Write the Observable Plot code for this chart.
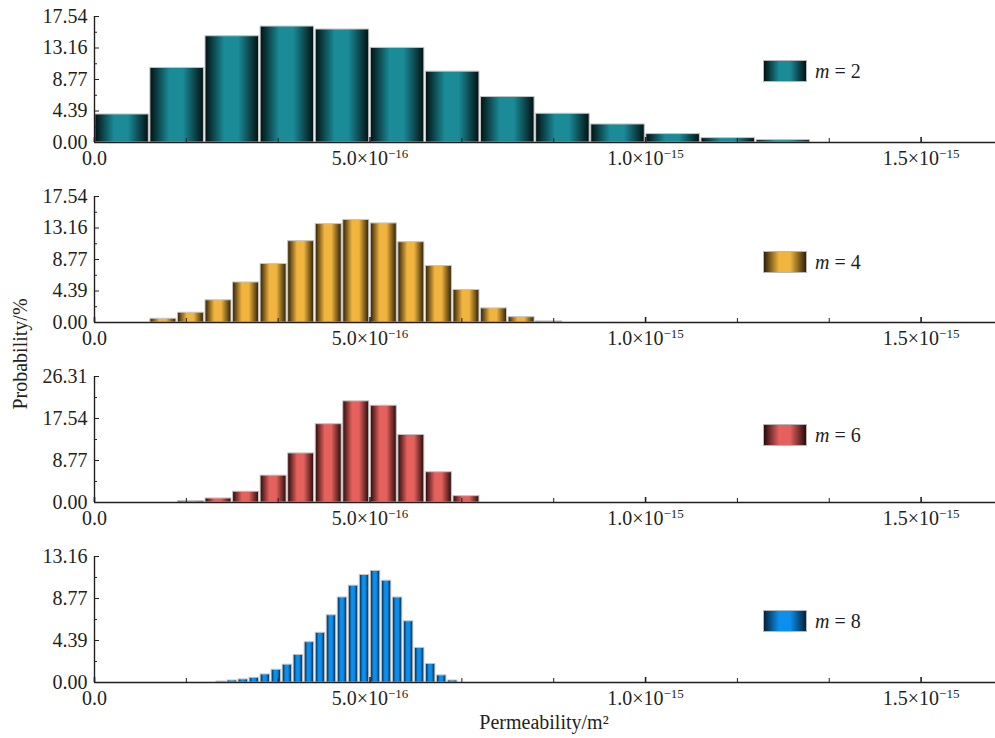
<!DOCTYPE html>
<html>
<head>
<meta charset="utf-8">
<script src="https://cdn.jsdelivr.net/npm/d3@7"></script>
<script src="https://cdn.jsdelivr.net/npm/@observablehq/plot@0.6"></script>
<style>
  html, body { margin: 0; padding: 0; background: #fff; }
  #wrap { position: relative; width: 995px; height: 738px; overflow: hidden;
          font-family: "Liberation Serif", "Times New Roman", serif; color: #231f20; }
  .panel { position: absolute; left: 0; }
  .legend { position: absolute; display: flex; align-items: center; font-size: 20px; white-space: nowrap; }
  .legend .sw { width: 44px; height: 22px; box-sizing: border-box; border: 1px solid #b8b8b8; margin-right: 8px; }
  .legend i { font-style: italic; }
  .ylab { position: absolute; font-size: 20px; transform: translate(-50%, -50%) rotate(-90deg); white-space: nowrap; }
  .xlab { position: absolute; font-size: 20px; transform: translate(-50%, -50%); white-space: nowrap; }
</style>
</head>
<body>
<div id="wrap"></div>
<script>
// ---------- data (bin lower edges in units of 1e-16 m², probabilities in %) ----------
const m2BinLo = [0, 1, 2, 3, 4, 5, 6, 7, 8, 9, 10, 11, 12];
const m2BinWidth = 1;
const m2Prob = [3.90, 10.38, 14.79, 16.14, 15.73, 13.17, 9.86, 6.33, 4.00, 2.51, 1.17, 0.61, 0.33];

const m4BinLo = [1.0, 1.5, 2.0, 2.5, 3.0, 3.5, 4.0, 4.5, 5.0, 5.5, 6.0, 6.5, 7.0, 7.5, 8.0];
const m4BinWidth = 0.5;
const m4Prob = [0.52, 1.36, 3.09, 5.57, 8.14, 11.32, 13.70, 14.27, 13.79, 11.18, 7.86, 4.53, 1.96, 0.74, 0.15];

const m6BinLo = [1.5, 2.0, 2.5, 3.0, 3.5, 4.0, 4.5, 5.0, 5.5, 6.0, 6.5];
const m6BinWidth = 0.5;
const m6Prob = [0.28, 0.84, 2.25, 5.61, 10.25, 16.35, 21.12, 20.21, 14.10, 6.32, 1.33];

const m8BinLo = [2.2, 2.4, 2.6, 2.8, 3.0, 3.2, 3.4, 3.6, 3.8, 4.0, 4.2, 4.4, 4.6, 4.8, 5.0, 5.2, 5.4, 5.6, 5.8, 6.0, 6.2, 6.4];
const m8BinWidth = 0.2;
const m8Prob = [0.10, 0.21, 0.32, 0.49, 0.84, 1.33, 1.86, 2.88, 4.21, 5.19, 7.02, 8.88, 10.11, 11.23, 11.65, 10.63, 8.88, 6.39, 3.61, 1.93, 0.74, 0.21];

const seriesNames = ["m = 2", "m = 4", "m = 6", "m = 8"];

// ---------- axis ticks ----------
const xDomain = [0, 1.635e-15];
const xMajorTicks = [0, 5e-16, 1e-15, 1.5e-15];
const xTickLabels = ["0.0", "5.0×10^−16", "1.0×10^−15", "1.5×10^−15"];
const xMinorTicks = [1.6667e-16, 3.3333e-16, 6.6667e-16, 8.3333e-16, 1.16667e-15, 1.33333e-15];

const yTicksA = [0, 4.385, 8.77, 13.155, 17.54];
const yTickLabelsA = ["0.00", "4.39", "8.77", "13.16", "17.54"];
const yTicksB = [0, 8.77, 17.54, 26.31];
const yTickLabelsB = ["0.00", "8.77", "17.54", "26.31"];
const yTicksC = [0, 4.3867, 8.7733, 13.16];
const yTickLabelsC = ["0.00", "4.39", "8.77", "13.16"];

const xLabel = "Permeability/m²";
const yLabel = "Probability/%";

// ---------- styles ----------
const palette = [
  {dark: "#021112", mid: "#1a8b97"},
  {dark: "#2f2005", mid: "#f1b53f"},
  {dark: "#2a0b0b", mid: "#e4615d"},
  {dark: "#05213a", mid: "#0b90ef"}
];

const panels = [
  {lo: m2BinLo, w: m2BinWidth, p: m2Prob, yTicks: yTicksA, yLabels: yTickLabelsA, legendY: 71},
  {lo: m4BinLo, w: m4BinWidth, p: m4Prob, yTicks: yTicksA, yLabels: yTickLabelsA, legendY: 82},
  {lo: m6BinLo, w: m6BinWidth, p: m6Prob, yTicks: yTicksB, yLabels: yTickLabelsB, legendY: 75},
  {lo: m8BinLo, w: m8BinWidth, p: m8Prob, yTicks: yTicksC, yLabels: yTickLabelsC, legendY: 81}
];

const wrap = document.getElementById("wrap");
const PH = 180;
const xLabelMap = new Map(xMajorTicks.map((t, i) => [t, xTickLabels[i]]));

panels.forEach((cfg, k) => {
  const data = cfg.lo.map((lo, i) => ({x1: lo * 1e-16, x2: (lo + cfg.w) * 1e-16, y: cfg.p[i]}));
  const yLabelMap = new Map(cfg.yTicks.map((t, i) => [t, cfg.yLabels[i]]));
  const yMinor = d3.pairs(cfg.yTicks).map(([a, b]) => (a + b) / 2);
  const svg = Plot.plot({
    width: 995, height: PH,
    marginLeft: 94, marginRight: 0, marginTop: 16, marginBottom: 38,
    style: {fontFamily: '"Liberation Serif", "Times New Roman", serif', fontSize: "20px",
            color: "#231f20", background: "transparent", overflow: "visible"},
    x: {domain: xDomain},
    y: {domain: [0, cfg.yTicks[cfg.yTicks.length - 1]]},
    marks: [
      Plot.rectY(data, {x1: "x1", x2: "x2", y: "y", fill: `url(#grad${k})`,
                        stroke: "#c4c4c4", strokeWidth: 1, insetLeft: 0.8, insetRight: 0.8}),
      Plot.ruleY([0], {stroke: "#231f20", strokeWidth: 1.6}),
      Plot.ruleX([0], {stroke: "#231f20", strokeWidth: 1.4}),
      Plot.axisX(xMajorTicks, {tickSize: -5, tickPadding: 13, strokeWidth: 1.6,
                               tickFormat: d => xLabelMap.get(d), fontSize: 20, label: null}),
      Plot.axisX(xMinorTicks, {tickSize: -4, fill: "none", label: null}),
      Plot.axisY(cfg.yTicks, {tickSize: -5, tickPadding: 12, tickFormat: d => yLabelMap.get(d),
                              fontSize: 20, label: null}),
      Plot.axisY(yMinor, {tickSize: -3, fill: "none", label: null})
    ]
  });
  // gradient definition for the bar shading
  const defs = d3.select(svg).insert("defs", ":first-child");
  const g = defs.append("linearGradient").attr("id", `grad${k}`)
    .attr("x1", "0%").attr("x2", "100%").attr("y1", "0%").attr("y2", "0%");
  const c = palette[k];
  [[0, c.dark], [0.36, c.mid], [0.62, c.mid], [1, c.dark]].forEach(([o, col]) =>
    g.append("stop").attr("offset", o).attr("stop-color", col));
  // superscript exponents in x tick labels
  d3.select(svg).selectAll('g[aria-label="x-axis tick label"] text').each(function () {
    const t = this.textContent;
    if (t.includes("^")) {
      const [a, b] = t.split("^");
      const sel = d3.select(this);
      sel.text(a);
      sel.append("tspan").attr("dy", "-0.5em").attr("font-size", "13px").text(b);
    }
  });
  svg.classList.add("panel");
  svg.style.top = (k * PH) + "px";
  wrap.appendChild(svg);

  // legend
  const lg = document.createElement("div");
  lg.className = "legend";
  lg.style.left = "763px";
  lg.style.top = (k * PH + cfg.legendY - 11) + "px";
  lg.style.height = "22px";
  const sw = document.createElement("div");
  sw.className = "sw";
  sw.style.background = `linear-gradient(to right, ${c.dark} 0%, ${c.mid} 36%, ${c.mid} 62%, ${c.dark} 100%)`;
  const parts = seriesNames[k].split(" ");
  const tx = document.createElement("span");
  tx.innerHTML = `<i>${parts[0]}</i> ${parts.slice(1).join(" ")}`;
  lg.appendChild(sw);
  lg.appendChild(tx);
  wrap.appendChild(lg);
});

const yl = document.createElement("div");
yl.className = "ylab";
yl.style.left = "20px";
yl.style.top = "354px";
yl.textContent = yLabel;
wrap.appendChild(yl);

const xl = document.createElement("div");
xl.className = "xlab";
xl.style.left = "544px";
xl.style.top = "722px";
xl.textContent = xLabel;
wrap.appendChild(xl);
</script>
</body>
</html>
